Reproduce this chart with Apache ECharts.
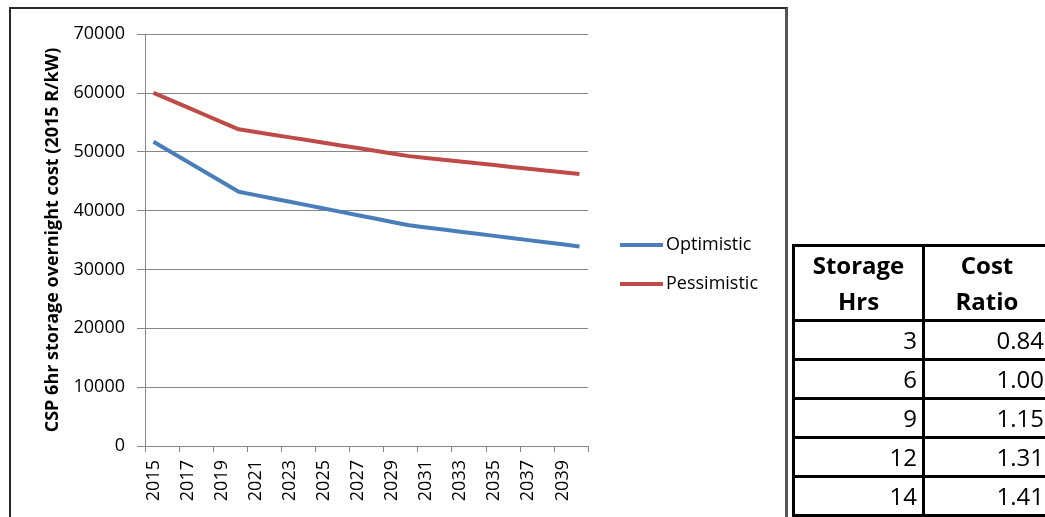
<!DOCTYPE html>
<html>
<head>
<meta charset="utf-8">
<script src="https://cdn.jsdelivr.net/npm/echarts@6/dist/echarts.min.js"></script>
<style>
  html, body { margin:0; padding:0; width:1045px; height:517px; overflow:hidden; background:#fff; }
  #chart { position:absolute; left:0; top:0; width:1045px; height:517px; }
  #frame { position:absolute; left:9px; top:7px; width:774px; height:508px;
           border-left:2px solid #2a2a2a; border-top:2px solid #2a2a2a;
           border-right:3px solid #555; border-bottom:2px solid #8a8a8a; pointer-events:none; }
  #tbl { position:absolute; left:792px; top:244px; width:257px; table-layout:fixed; border-collapse:collapse;
         font-family:'Open Sans', sans-serif; color:#000; }
  #tbl th, #tbl td { border:3px solid #000; padding:0; }
  #tbl th { font-weight:bold; font-size:24px; line-height:36px; height:70px; text-align:center; }
  #tbl td { font-size:24px; height:36px; line-height:36px; text-align:right; padding-right:5px; }
</style>
</head>
<body>
<div id="chart"></div>
<div id="frame"></div>
<table id="tbl"></table>
<script>
// ---- data ----
const years = ['2015','2016','2017','2018','2019','2020','2021','2022','2023','2024','2025','2026','2027',
               '2028','2029','2030','2031','2032','2033','2034','2035','2036','2037','2038','2039','2040'];
const optimistic = [51700, 50000, 48300, 46600, 44900, 43200, 42630, 42060, 41490, 40920, 40350, 39780, 39210,
                    38640, 38070, 37500, 37140, 36780, 36420, 36060, 35700, 35340, 34980, 34620, 34260, 33900];
const pessimistic = [60000, 58760, 57520, 56280, 55040, 53800, 53350, 52890, 52440, 51980, 51530, 51070, 50620,
                     50160, 49710, 49250, 48950, 48640, 48340, 48030, 47730, 47420, 47120, 46810, 46510, 46200];
const seriesNames = ['Optimistic', 'Pessimistic'];
const yAxisTitle = 'CSP 6hr storage overnight cost (2015 R/kW)';
const tableHeaders = ['Storage<br>Hrs', 'Cost<br>Ratio'];
const storageHrs = [3, 6, 9, 12, 14];
const costRatio = ['0.84', '1.00', '1.15', '1.31', '1.41'];

// ---- table ----
const tbl = document.getElementById('tbl');
let html = '<colgroup><col style="width:130px"><col style="width:127px"></colgroup>';
html += '<tr><th>' + tableHeaders[0] + '</th><th>' + tableHeaders[1] + '</th></tr>';
storageHrs.forEach((h, i) => {
  html += '<tr><td>' + h + '</td><td>' + costRatio[i] + '</td></tr>';
});
tbl.innerHTML = html;

// ---- chart ----
const font = "'Open Sans', sans-serif";
const chart = echarts.init(document.getElementById('chart'), null, { renderer: 'canvas' });
chart.setOption({
  animation: false,
  backgroundColor: 'transparent',
  grid: { left: 145, right: 457, top: 34, bottom: 71, containLabel: false },
  legend: {
    orient: 'vertical', left: 620, top: 236, padding: 0,
    itemWidth: 43, itemHeight: 4, itemGap: 21, icon: 'rect',
    textStyle: { fontFamily: font, fontSize: 18, color: '#000', padding: [0, 0, 0, -2] },
    data: seriesNames
  },
  xAxis: {
    type: 'category', data: years, boundaryGap: true,
    axisLine: { lineStyle: { color: '#868686', width: 1 } },
    axisTick: { show: true, interval: 1, length: 6, lineStyle: { color: '#868686' } },
    axisLabel: { interval: 1, rotate: 90, margin: 14, fontFamily: font, fontSize: 18, color: '#000' },
    splitLine: { show: false }
  },
  yAxis: {
    type: 'value', min: 0, max: 70000, interval: 10000,
    name: yAxisTitle, nameLocation: 'middle', nameGap: 83, nameRotate: 90,
    nameTextStyle: { fontFamily: font, fontSize: 18, fontWeight: 'bold', color: '#000' },
    axisLine: { show: true, lineStyle: { color: '#868686', width: 1 } },
    axisTick: { show: true, length: 8, lineStyle: { color: '#868686' } },
    axisLabel: { margin: 20, fontFamily: font, fontSize: 18, color: '#000',
                 formatter: function (v) { return String(v); } },
    splitLine: { show: true, lineStyle: { color: '#868686', width: 1 } }
  },
  series: [
    { name: seriesNames[0], type: 'line', data: optimistic, showSymbol: false, symbol: 'none',
      lineStyle: { color: '#4a7ebb', width: 4 }, itemStyle: { color: '#4a7ebb' } },
    { name: seriesNames[1], type: 'line', data: pessimistic, showSymbol: false, symbol: 'none',
      lineStyle: { color: '#be4b48', width: 4 }, itemStyle: { color: '#be4b48' } }
  ]
});
</script>
</body>
</html>
